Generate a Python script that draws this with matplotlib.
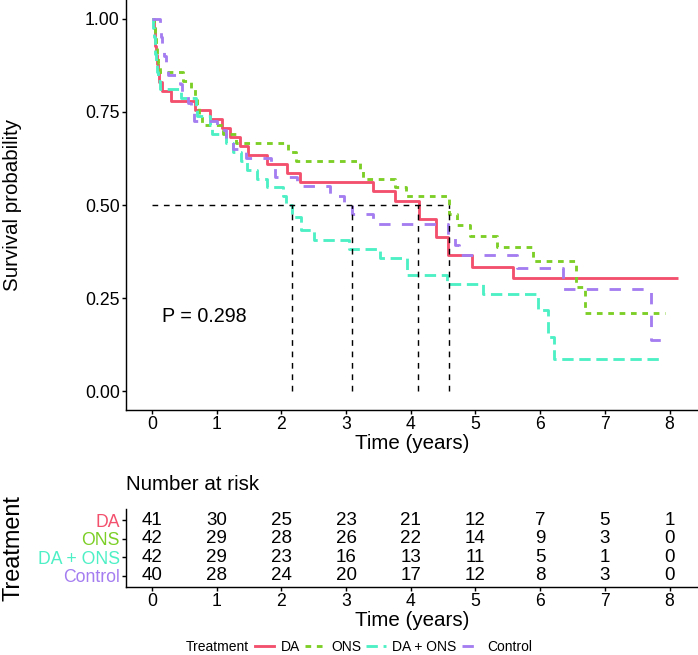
import matplotlib
matplotlib.use("Agg")
import matplotlib.pyplot as plt
from matplotlib.lines import Line2D

plt.rcParams['font.family'] = ['Liberation Sans', 'DejaVu Sans']
K = 1.1

# ---------------- data ----------------
groups = ["DA", "ONS", "DA + ONS", "Control"]
colors = ["#F3506D", "#7CCF26", "#4DF0C5", "#A47DF0"]
dash_patterns = [None, (2, 2), (4, 2), (4, 4)]

da_t = [0, 0.03, 0.04, 0.05, 0.06, 0.07, 0.09, 0.11, 0.15, 0.30, 0.665, 0.90, 1.08, 1.21,
        1.36, 1.49, 1.77, 2.08, 2.29, 3.42, 3.76, 4.12, 4.39, 4.58, 4.94, 5.58, 8.13]
da_s = [1.0, 0.976, 0.951, 0.927, 0.902, 0.878, 0.854, 0.829, 0.805, 0.780, 0.756, 0.732, 0.707,
        0.683, 0.659, 0.634, 0.610, 0.585, 0.561, 0.537, 0.512, 0.463, 0.415, 0.366, 0.335,
        0.305, 0.305]

ons_t = [0, 0.03, 0.04, 0.06, 0.08, 0.10, 0.12, 0.48, 0.61, 0.66, 0.69, 0.72, 0.78, 1.10,
         1.30, 2.10, 2.22, 3.22, 3.26, 3.75, 3.92, 4.59, 4.72, 4.92, 5.33, 5.89, 6.56, 6.70, 7.93]
ons_s = [1.0, 0.976, 0.952, 0.929, 0.905, 0.881, 0.857, 0.833, 0.810, 0.786, 0.762, 0.738,
         0.714, 0.690, 0.667, 0.643, 0.619, 0.595, 0.571, 0.548, 0.524, 0.476, 0.446, 0.417,
         0.388, 0.351, 0.281, 0.211, 0.211]

daons_t = [0, 0.02, 0.03, 0.04, 0.05, 0.06, 0.07, 0.09, 0.12, 0.45, 0.68, 0.70, 0.90, 0.93,
           1.15, 1.25, 1.38, 1.47, 1.63, 1.78, 2.03, 2.07, 2.17, 2.30, 2.50, 3.05, 3.53,
           3.94, 4.56, 5.12, 5.97, 6.12, 6.22, 7.83]
daons_s = [1.0, 0.976, 0.952, 0.929, 0.905, 0.881, 0.857, 0.833, 0.810, 0.786, 0.762, 0.738,
           0.714, 0.690, 0.667, 0.643, 0.619, 0.595, 0.571, 0.548, 0.524, 0.500, 0.469, 0.433,
           0.406, 0.382, 0.359, 0.311, 0.288, 0.261, 0.219, 0.146, 0.087, 0.087]

ctrl_t = [0, 0.12, 0.14, 0.16, 0.19, 0.21, 0.24, 0.43, 0.46, 0.55, 0.60, 0.65, 1.00, 1.15,
          1.25, 1.45, 1.84, 1.90, 2.24, 2.75, 2.97, 3.09, 3.42, 4.58, 4.68, 4.74, 5.64, 6.35,
          7.72, 7.93]
ctrl_s = [1.0, 0.975, 0.950, 0.925, 0.900, 0.875, 0.850, 0.825, 0.800, 0.775, 0.750, 0.725,
          0.700, 0.675, 0.650, 0.625, 0.600, 0.575, 0.550, 0.525, 0.500, 0.475, 0.450, 0.420,
          0.393, 0.365, 0.330, 0.274, 0.137, 0.137]

curves_t = [da_t, ons_t, daons_t, ctrl_t]
curves_s = [da_s, ons_s, daons_s, ctrl_s]

medians = [2.17, 3.09, 4.11, 4.59]
p_label = "P = 0.298"
p_pos = (0.16, 0.20)

risk_times = [0, 1, 2, 3, 4, 5, 6, 7, 8]
risk_da = [41, 30, 25, 23, 21, 12, 7, 5, 1]
risk_ons = [42, 29, 28, 26, 22, 14, 9, 3, 0]
risk_daons = [42, 29, 23, 16, 13, 11, 5, 1, 0]
risk_ctrl = [40, 28, 24, 20, 17, 12, 8, 3, 0]
risk_rows = [risk_da, risk_ons, risk_daons, risk_ctrl]

y_ticks = [0.0, 0.25, 0.5, 0.75, 1.0]
x_ticks = [0, 1, 2, 3, 4, 5, 6, 7, 8]

# ---------------- figure ----------------
DPI = 96
W, H = 698, 655
fig = plt.figure(figsize=(W / DPI, H / DPI), dpi=DPI)


def px_axes(l, t, r, b):
    return fig.add_axes([l / W, 1 - b / H, (r - l) / W, (b - t) / H])


XLIM = (-0.402, 8.44)
LW = 2.13
FS_TICK = 12 * K
FS_TITLE = 14 * K
FS_RISK = 12.8 * K
FS_P = 14.2 * 1.04
FS_LEG = 10 * 1.04
YLAB_X = 13  # px


def style_axes(a):
    for s in ("top", "right"):
        a.spines[s].set_visible(False)
    for s in ("left", "bottom"):
        a.spines[s].set_linewidth(1.07)
        a.spines[s].set_color("black")
    a.tick_params(axis="both", direction="out", length=3.0, width=1.07,
                  color="black", labelsize=FS_TICK, labelcolor="black", pad=1.6)


# main plot
ax = px_axes(126, 0, 698, 410)
for t, s, c, d in zip(curves_t, curves_s, colors, dash_patterns):
    ls = "-" if d is None else (0, d)
    ax.plot(t, s, drawstyle="steps-post", color=c, lw=LW, ls=ls,
            solid_capstyle="butt", dash_capstyle="butt")
ax.plot([0, max(medians)], [0.5, 0.5], color="black", lw=1.07, ls=(0, (4, 4)))
for m in medians:
    ax.plot([m, m], [0, 0.5], color="black", lw=1.07, ls=(0, (4, 4)))
ax.text(p_pos[0], p_pos[1], p_label, fontsize=FS_P, ha="left", va="center")
ax.set_xlim(*XLIM)
ax.set_ylim(-0.05, 1.05)
ax.set_xticks(x_ticks)
ax.set_yticks(y_ticks)
ax.set_yticklabels([f"{v:.2f}" for v in y_ticks])
style_axes(ax)
ax.set_xlabel("Time (years)", fontsize=FS_TITLE, labelpad=0.5)
ax.set_ylabel("Survival probability", fontsize=FS_TITLE)
ax.yaxis.set_label_coords((YLAB_X - 126) / 572, 0.5)
ax.yaxis.label.set_verticalalignment("center")

# risk table
rt = px_axes(126, 509, 698, 587)
n = len(groups)
for i, row in enumerate(risk_rows):
    y = n - i
    for tt, v in zip(risk_times, row):
        rt.text(tt, y, str(v), fontsize=FS_RISK, ha="center", va="center")
rt.set_xlim(*XLIM)
rt.set_ylim(0.4, n + 0.6)
rt.set_xticks(x_ticks)
rt.set_yticks([n - i for i in range(n)])
rt.set_yticklabels(groups)
style_axes(rt)
for lab, c in zip(rt.get_yticklabels(), colors):
    lab.set_color(c)
rt.set_xlabel("Time (years)", fontsize=FS_TITLE, labelpad=0.5)
rt.set_ylabel("Treatment", fontsize=16 * K)
rt.yaxis.set_label_coords((YLAB_X - 126) / 572, 0.5)
rt.yaxis.label.set_verticalalignment("center")
fig.text(126 / W, 1 - 484 / H, "Number at risk", fontsize=FS_TITLE, ha="left", va="center")

# legend
handles = [Line2D([], [], color=c, lw=LW, ls=("-" if d is None else (0, d)))
           for c, d in zip(colors, dash_patterns)]
fig.legend(handles, groups, loc="center left", bbox_to_anchor=(255 / W, 1 - 647 / H),
           ncol=4, frameon=False, fontsize=FS_LEG, handlelength=19.3 / (FS_LEG * DPI / 72),
           handletextpad=0.45, columnspacing=0.4, borderpad=0, borderaxespad=0)
fig.text(249 / W, 1 - 647 / H, "Treatment", fontsize=FS_LEG, ha="right", va="center")

fig.savefig("out.png", dpi=DPI)
